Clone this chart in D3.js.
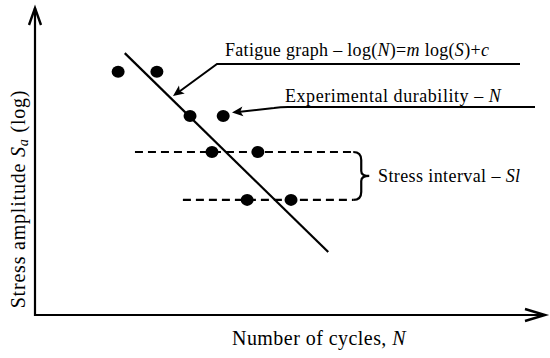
<!DOCTYPE html>
<html>
<head>
<meta charset="utf-8">
<script src="https://cdn.jsdelivr.net/npm/d3@7"></script>
<style>
body { margin: 0; background: #fff; }
text { font-family: "Liberation Serif", "DejaVu Serif", serif; fill: #000; }
</style>
</head>
<body>
<svg width="550" height="358"></svg>
<script>
// values in chart units (x: log N, y: log S), 0..100 on each axis
var points = [
  {n: 16.3, s: 79.2}, {n: 23.9, s: 79.2},
  {n: 30.4, s: 64.8}, {n: 36.9, s: 64.8},
  {n: 34.7, s: 53.1}, {n: 43.7, s: 53.1},
  {n: 41.6, s: 37.5}, {n: 50.2, s: 37.5}
];
var fatigueLine = [{n: 17.6, s: 85.3}, {n: 57.5, s: 20.5}];
var intervals = [
  {from: 19.6, to: 62.4, s: 53.1},
  {from: 29.0, to: 62.4, s: 37.5}
];

var svg = d3.select("svg");

var x = d3.scaleLinear().domain([0, 100]).range([35, 545]);
var y = d3.scaleLinear().domain([0, 100]).range([315, 8]);

var ink = "#000";

// axes
svg.append("path")
  .attr("d", "M" + x(0) + "," + y(100) + "V" + y(0) + "H" + x(100))
  .attr("fill", "none").attr("stroke", ink).attr("stroke-width", 2.2);
// arrowheads
svg.append("path")
  .attr("d", "M" + (x(0) - 6) + "," + (y(100) + 17) + "L" + x(0) + "," + y(100) + "L" + (x(0) + 6) + "," + (y(100) + 17))
  .attr("fill", "none").attr("stroke", ink).attr("stroke-width", 2.4);
svg.append("path")
  .attr("d", "M" + (x(100) - 20) + "," + (y(0) - 6) + "L" + x(100) + "," + y(0) + "L" + (x(100) - 20) + "," + (y(0) + 6))
  .attr("fill", "none").attr("stroke", ink).attr("stroke-width", 2.4);

// stress interval dashed lines
svg.selectAll(".interval")
  .data(intervals)
  .enter().append("line")
  .attr("class", "interval")
  .attr("x1", function(d) { return x(d.from); })
  .attr("x2", function(d) { return x(d.to); })
  .attr("y1", function(d) { return y(d.s); })
  .attr("y2", function(d) { return y(d.s); })
  .attr("stroke", ink).attr("stroke-width", 2.2)
  .attr("stroke-dasharray", "8,5");

// curly brace joining the interval ends
var bx = x(62.4), by1 = y(53.1), by2 = y(37.5), bm = (by1 + by2) / 2;
svg.append("path")
  .attr("d", "M" + bx + "," + by1 + " Q" + (bx + 8) + "," + by1 + " " + (bx + 8) + "," + (by1 + 8) +
    " V" + (bm - 5) + " Q" + (bx + 8) + "," + bm + " " + (bx + 16) + "," + bm +
    " Q" + (bx + 8) + "," + bm + " " + (bx + 8) + "," + (bm + 5) +
    " V" + (by2 - 8) + " Q" + (bx + 8) + "," + by2 + " " + bx + "," + by2)
  .attr("fill", "none").attr("stroke", ink).attr("stroke-width", 2.2);

// fatigue line
svg.append("path")
  .datum(fatigueLine)
  .attr("d", d3.line().x(function(d) { return x(d.n); }).y(function(d) { return y(d.s); }))
  .attr("fill", "none").attr("stroke", ink).attr("stroke-width", 2.2);

// experimental points
svg.selectAll(".pt")
  .data(points)
  .enter().append("ellipse")
  .attr("class", "pt")
  .attr("cx", function(d) { return x(d.n); })
  .attr("cy", function(d) { return y(d.s); })
  .attr("rx", 6.5).attr("ry", 6)
  .attr("fill", ink);

// annotation arrows
function arrowHead(tx, ty, fx, fy) {
  var a = Math.atan2(ty - fy, tx - fx), L = 12, w = 0.42;
  svg.append("path")
    .attr("d", "M" + tx + "," + ty +
      "L" + (tx - L * Math.cos(a - w)) + "," + (ty - L * Math.sin(a - w)) +
      "L" + (tx - L * Math.cos(a) * 0.7) + "," + (ty - L * Math.sin(a) * 0.7) +
      "L" + (tx - L * Math.cos(a + w)) + "," + (ty - L * Math.sin(a + w)) + "Z")
    .attr("fill", ink);
}

// fatigue graph label
svg.append("path")
  .attr("d", "M520,64H217L176,94")
  .attr("fill", "none").attr("stroke", ink).attr("stroke-width", 2);
arrowHead(173, 96, 217, 64);
var t1 = svg.append("text").attr("x", 225).attr("y", 56)
  .style("font-size", "18px").style("letter-spacing", "0.3px");
t1.append("tspan").text("Fatigue graph \u2013 log(");
t1.append("tspan").style("font-style", "italic").text("N");
t1.append("tspan").text(")=");
t1.append("tspan").style("font-style", "italic").text("m");
t1.append("tspan").text(" log(");
t1.append("tspan").style("font-style", "italic").text("S");
t1.append("tspan").text(")+");
t1.append("tspan").style("font-style", "italic").text("c");

// experimental durability label
svg.append("path")
  .attr("d", "M535,107H288Q280,107 274,108L238,112")
  .attr("fill", "none").attr("stroke", ink).attr("stroke-width", 2);
arrowHead(232, 112.5, 274, 108);
var t2 = svg.append("text").attr("x", 285).attr("y", 102)
  .style("font-size", "18px").style("letter-spacing", "0.55px");
t2.append("tspan").text("Experimental durability \u2013 ");
t2.append("tspan").style("font-style", "italic").text("N");

// stress interval label
var t3 = svg.append("text").attr("x", 378).attr("y", 182)
  .style("font-size", "18px").style("letter-spacing", "0.4px");
t3.append("tspan").text("Stress interval \u2013 ");
t3.append("tspan").style("font-style", "italic").text("Sl");

// axis titles
var xt = svg.append("text").attr("x", 232).attr("y", 345)
  .style("font-size", "20px").style("letter-spacing", "0.45px");
xt.append("tspan").text("Number of cycles, ");
xt.append("tspan").style("font-style", "italic").text("N");

var yt = svg.append("text")
  .attr("transform", "translate(25,199) rotate(-90)")
  .attr("text-anchor", "middle")
  .style("font-size", "20px").style("letter-spacing", "0.8px");
yt.append("tspan").text("Stress amplitude ");
yt.append("tspan").style("font-style", "italic").text("S");
yt.append("tspan").style("font-style", "italic").style("font-size", "14px").attr("dy", 3).text("a");
yt.append("tspan").attr("dy", -3).text(" (log)");
</script>
</body>
</html>
